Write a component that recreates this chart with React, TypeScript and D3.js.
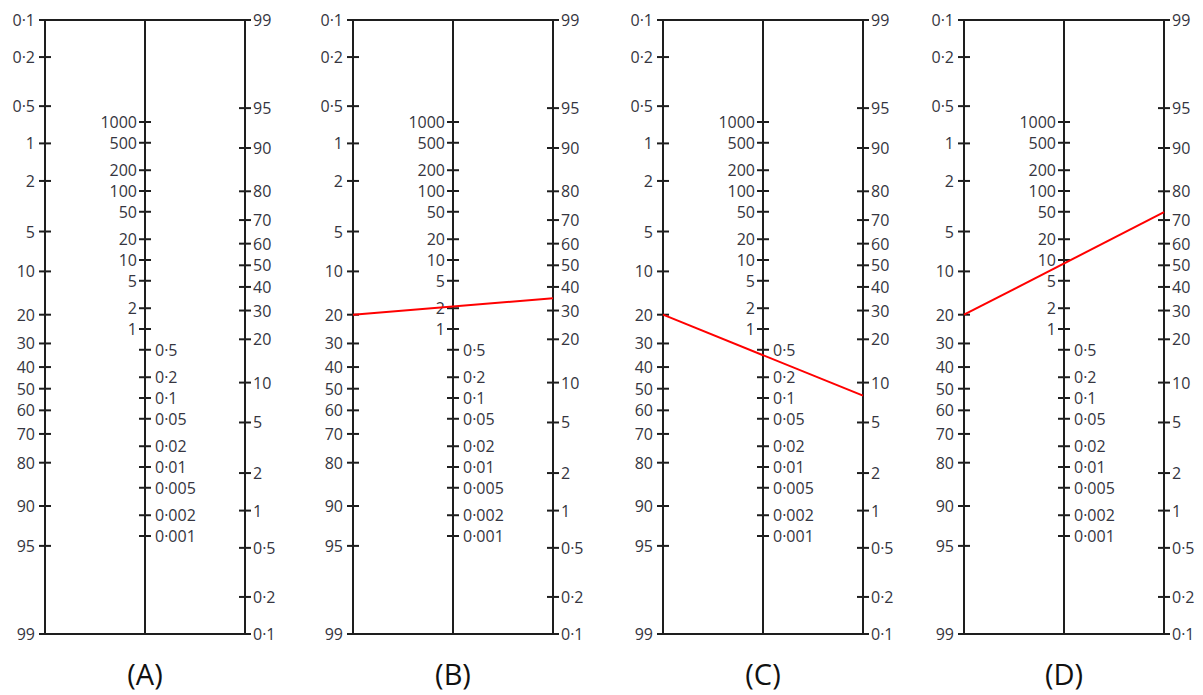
import React from "react";
import * as d3 from "d3";

// ---- data ----
const preTestTicks = [0.1, 0.2, 0.5, 1, 2, 5, 10, 20, 30, 40, 50, 60, 70, 80, 90, 95, 99];
const postTestTicks = [99, 95, 90, 80, 70, 60, 50, 40, 30, 20, 10, 5, 2, 1, 0.5, 0.2, 0.1];
const likelihoodRatioTicks = [
  1000, 500, 200, 100, 50, 20, 10, 5, 2, 1,
  0.5, 0.2, 0.1, 0.05, 0.02, 0.01, 0.005, 0.002, 0.001,
];
const panelLabels = ["(A)", "(B)", "(C)", "(D)"];
const preTestValues: (number | null)[] = [null, 20, 20, 20];
const postTestValues: (number | null)[] = [null, 35, 8, 73];

// ---- layout ----
const W = 1203;
const H = 695;
const TOP = 20;
const BOTTOM = 634;
const panelLeft = [45, 353, 663, 964];
const AXIS_GAP = 100;
const TICK = 6;
const FONT = "'Open Sans', 'Noto Sans', sans-serif";
const TEXT_COLOR = "#353540";
const LINE_COLOR = "#1e1e1e";

const logit = (p: number) => Math.log(p / (100 - p));

const leftScale = d3.scaleLinear().domain([logit(0.1), logit(99)]).range([TOP, BOTTOM]);
const rightScale = d3.scaleLinear().domain([logit(99), logit(0.1)]).range([TOP, BOTTOM]);
const midScale = d3.scaleLog().domain([0.001, 1000]).range([536, 122]);

const fmt = (v: number) => String(v).replace(".", "\u00b7");

function Panel({ index }: { index: number }) {
  const xl = panelLeft[index];
  const xm = xl + AXIS_GAP;
  const xr = xl + 2 * AXIS_GAP;
  const pre = preTestValues[index];
  const post = postTestValues[index];
  return (
    <g>
      <line x1={xl} x2={xr} y1={TOP} y2={TOP} stroke={LINE_COLOR} strokeWidth={2} />
      <line x1={xl} x2={xr} y1={BOTTOM} y2={BOTTOM} stroke={LINE_COLOR} strokeWidth={2} />
      <line x1={xl} x2={xl} y1={TOP} y2={BOTTOM} stroke={LINE_COLOR} strokeWidth={2} />
      <line x1={xm} x2={xm} y1={TOP} y2={BOTTOM} stroke={LINE_COLOR} strokeWidth={2} />
      <line x1={xr} x2={xr} y1={TOP} y2={BOTTOM} stroke={LINE_COLOR} strokeWidth={2} />

      {preTestTicks.map((v) => {
        const y = leftScale(logit(v));
        return (
          <g key={"l" + v}>
            <line x1={xl - TICK} x2={xl + TICK} y1={y} y2={y} stroke={LINE_COLOR} strokeWidth={2} />
            <text x={xl - 10} y={y} textAnchor="end" dominantBaseline="central"
              fontFamily={FONT} fontSize={16} fill={TEXT_COLOR}>{fmt(v)}</text>
          </g>
        );
      })}

      {likelihoodRatioTicks.map((v) => {
        const y = midScale(v);
        const upper = v >= 1;
        return (
          <g key={"m" + v}>
            <line x1={xm - TICK} x2={xm + TICK} y1={y} y2={y} stroke={LINE_COLOR} strokeWidth={2} />
            <text x={upper ? xm - 8 : xm + 10} y={y} textAnchor={upper ? "end" : "start"}
              dominantBaseline="central" fontFamily={FONT} fontSize={16} fill={TEXT_COLOR}>{fmt(v)}</text>
          </g>
        );
      })}

      {postTestTicks.map((v) => {
        const y = rightScale(logit(v));
        return (
          <g key={"r" + v}>
            <line x1={xr - TICK} x2={xr + TICK} y1={y} y2={y} stroke={LINE_COLOR} strokeWidth={2} />
            <text x={xr + 8} y={y} textAnchor="start" dominantBaseline="central"
              fontFamily={FONT} fontSize={16} fill={TEXT_COLOR}>{fmt(v)}</text>
          </g>
        );
      })}

      {pre !== null && post !== null && (
        <line x1={xl} y1={leftScale(logit(pre))} x2={xr} y2={rightScale(logit(post))}
          stroke="#ff0000" strokeWidth={2} />
      )}

      <text x={xm} y={685} textAnchor="middle" fontFamily={FONT} fontSize={29} fill="#111">
        {panelLabels[index]}
      </text>
    </g>
  );
}

export default function App() {
  return (
    <svg width={W} height={H} style={{ position: "absolute", left: 0, top: 0, background: "#fff" }}>
      {panelLabels.map((_, i) => (
        <Panel key={i} index={i} />
      ))}
    </svg>
  );
}
